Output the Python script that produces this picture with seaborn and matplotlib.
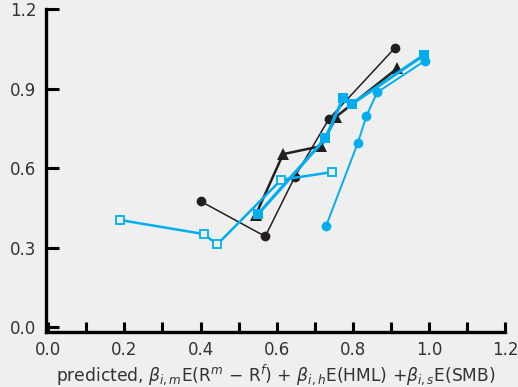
import matplotlib
matplotlib.use("Agg")
import matplotlib.pyplot as plt
import seaborn as sns
import pandas as pd

# data (predicted vs actual mean excess returns), five portfolio groups
circ_blk_x = [0.40, 0.57, 0.647, 0.737, 0.91]
circ_blk_y = [0.475, 0.342, 0.565, 0.785, 1.053]
tri_blk_x = [0.545, 0.617, 0.717, 0.757, 0.917]
tri_blk_y = [0.423, 0.653, 0.683, 0.795, 0.977]
sq_cyan_x = [0.551, 0.728, 0.775, 0.798, 0.988]
sq_cyan_y = [0.426, 0.712, 0.865, 0.843, 1.028]
osq_cyan_x = [0.188, 0.408, 0.444, 0.612, 0.746]
osq_cyan_y = [0.404, 0.351, 0.312, 0.556, 0.585]
circ_cyan_x = [0.730, 0.813, 0.836, 0.864, 0.989]
circ_cyan_y = [0.382, 0.694, 0.797, 0.886, 1.005]

x_ticks = [0.0, 0.2, 0.4, 0.6, 0.8, 1.0, 1.2]
x_minor = [0.1, 0.3, 0.5, 0.7, 0.9, 1.1]
y_ticks = [0.0, 0.3, 0.6, 0.9, 1.2]

BG = "#efefef"
BLK = "#231f20"
CYAN = "#00aeef"

sns.set_theme(style="ticks")
plt.rcParams["font.family"] = ["DejaVu Sans"]
plt.rcParams["mathtext.fontset"] = "dejavusans"

fig = plt.figure(figsize=(5.18, 3.87), dpi=100, facecolor=BG)
ax = fig.add_axes([46 / 518, (387 - 331.7) / 387, (505 - 46) / 518, (331.7 - 9.3) / 387])
ax.set_facecolor(BG)

def draw(xs, ys, color, lw, marker, ms, mfc=None, z=2):
    df = pd.DataFrame({"x": xs, "y": ys})
    sns.lineplot(data=df, x="x", y="y", sort=False, color=color, lw=lw,
                 marker=marker, markersize=ms,
                 markerfacecolor=mfc if mfc else color,
                 markeredgecolor=color, markeredgewidth=1.3 if mfc else 0,
                 ax=ax, zorder=z, estimator=None)

draw(circ_blk_x, circ_blk_y, BLK, 1.1, "o", 7, z=2)
draw(tri_blk_x, tri_blk_y, BLK, 1.8, "^", 8.5, z=2)
draw(circ_cyan_x, circ_cyan_y, CYAN, 1.4, "o", 7, z=3)
draw(osq_cyan_x, osq_cyan_y, CYAN, 1.8, "s", 5.5, mfc=BG, z=3)
draw(sq_cyan_x, sq_cyan_y, CYAN, 2.3, "s", 6.5, z=4)

ax.set_xlim(-0.006, 1.2)
ax.set_ylim(-0.018, 1.2)
ax.set_xticks(x_ticks)
ax.set_xticks(x_minor, minor=True)
ax.set_yticks(y_ticks)
ax.set_xticklabels([f"{v:.1f}" for v in x_ticks])
ax.set_yticklabels([f"{v:.1f}" for v in y_ticks])

for s in ["top", "right"]:
    ax.spines[s].set_visible(False)
for s in ["left", "bottom"]:
    ax.spines[s].set_linewidth(2.4)
    ax.spines[s].set_color("black")
ax.spines["left"].set_bounds(-0.018, 1.2)
ax.spines["bottom"].set_bounds(-0.006, 1.2)

ax.tick_params(axis="both", which="both", direction="in", width=2.2, color="black",
               labelsize=12, labelcolor="#333333")
ax.tick_params(axis="y", length=9, pad=7)
ax.tick_params(axis="x", which="both", length=7, pad=7)

ax.set_ylabel("")
ax.set_xlabel(r"predicted, $\beta_{i,m}$E(R$^m$ $-$ R$^f$) + $\beta_{i,h}$E(HML) +$\beta_{i,s}$E(SMB)",
              fontsize=12.3, color="#333333", labelpad=2)

fig.savefig("out.png", dpi=100, facecolor=BG)
